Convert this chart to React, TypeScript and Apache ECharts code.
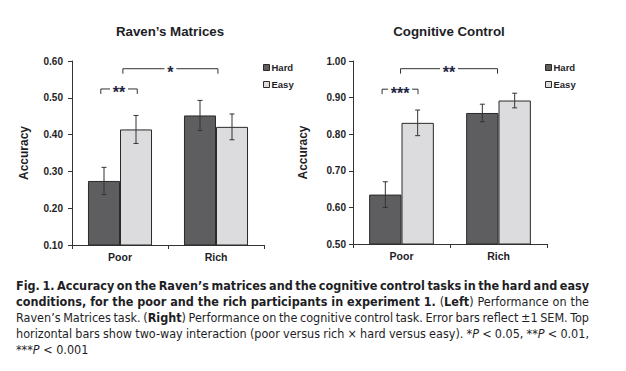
import React, { useEffect, useRef } from 'react';
import * as echarts from 'echarts';

// ---------- data ----------
const categories = ['Poor', 'Rich'];
const seriesNames = ['Hard', 'Easy'];
const titles = ['Raven\u2019s Matrices', 'Cognitive Control'];
const yAxisName = 'Accuracy';

const ravenHard = [0.274, 0.452];
const ravenEasy = [0.414, 0.421];
const ravenHardSem = [0.037, 0.041];
const ravenEasySem = [0.038, 0.035];

const cogHard = [0.635, 0.858];
const cogEasy = [0.831, 0.892];
const cogHardSem = [0.035, 0.024];
const cogEasySem = [0.035, 0.02];

const ravenAxis = { min: 0.1, max: 0.6, interval: 0.1 };
const cogAxis = { min: 0.5, max: 1.0, interval: 0.1 };

// significance brackets: category index + offset (fraction of band), y value, label
const ravenBrackets = [
  { from: 0, fromOff: -0.2, to: 0, toOff: 0.18, y: 0.524, label: '**' },
  { from: 0, fromOff: 0.03, to: 1, toOff: 0.02, y: 0.579, label: '*' },
];
const cogBrackets = [
  { from: 0, fromOff: -0.2, to: 0, toOff: 0.17, y: 0.923, label: '***' },
  { from: 0, fromOff: -0.01, to: 1, toOff: -0.01, y: 0.979, label: '**' },
];

type Run = { t: string; s: 'b' | 'n' | 'i' };
const captionLines: Run[][] = [
  [{ t: 'Fig. 1. Accuracy on the Raven\u2019s matrices and the cognitive control tasks in the hard and easy', s: 'b' }],
  [
    { t: 'conditions, for the poor and the rich participants in experiment 1.', s: 'b' },
    { t: ' (', s: 'n' },
    { t: 'Left', s: 'b' },
    { t: ') Performance on the', s: 'n' },
  ],
  [
    { t: 'Raven\u2019s Matrices task. (', s: 'n' },
    { t: 'Right', s: 'b' },
    { t: ') Performance on the cognitive control task. Error bars reflect \u00b11 SEM. Top', s: 'n' },
  ],
  [
    { t: 'horizontal bars show two-way interaction (poor versus rich \u00d7 hard versus easy). *', s: 'n' },
    { t: 'P', s: 'i' },
    { t: ' < 0.05, **', s: 'n' },
    { t: 'P', s: 'i' },
    { t: ' < 0.01,', s: 'n' },
  ],
  [
    { t: '***', s: 'n' },
    { t: 'P', s: 'i' },
    { t: ' < 0.001', s: 'n' },
  ],
];

// ---------- style ----------
const SANS = "'Liberation Sans', Arial, sans-serif";
const CAP_FONT = "'Liberation Sans Narrow', 'DejaVu Sans Condensed', 'Liberation Sans', sans-serif";
const CAP_SIZE = 12.5;
const CAP_LEFT = 16;
const CAP_RIGHT = 589;
const CAP_TOP = 285;
const CAP_LH = 16;
const TEXT = '#1e1e26';
const HARD_COLOR = '#5e5e60';
const EASY_COLOR = '#dcdcde';
const EDGE = '#2a2a2a';

function capFont(s: string) {
  return `${s === 'i' ? 'italic ' : ''}${s === 'b' ? 'bold ' : ''}${CAP_SIZE}px ${CAP_FONT}`;
}

function layoutCaption(): any[] {
  const canvas = document.createElement('canvas');
  const ctx = canvas.getContext('2d')!;
  const measure = (t: string, s: string) => {
    ctx.font = capFont(s);
    return ctx.measureText(t).width;
  };
  const elems: any[] = [];
  captionLines.forEach((line, li) => {
    const words: Run[][] = [];
    let cur: Run[] = [];
    line.forEach((seg) => {
      const parts = seg.t.split(' ');
      parts.forEach((p, pi) => {
        if (pi > 0) {
          if (cur.length) words.push(cur);
          cur = [];
        }
        if (p.length) cur.push({ t: p, s: seg.s });
      });
    });
    if (cur.length) words.push(cur);
    const widths = words.map((w) => w.reduce((a, r) => a + measure(r.t, r.s), 0));
    const total = widths.reduce((a, b) => a + b, 0);
    const sp = measure(' ', 'n');
    const justify = li < captionLines.length - 1;
    const gap = justify && words.length > 1 ? (CAP_RIGHT - CAP_LEFT - total) / (words.length - 1) : sp;
    let x = CAP_LEFT;
    const y = CAP_TOP + li * CAP_LH;
    words.forEach((w, wi) => {
      let rx = x;
      w.forEach((r) => {
        elems.push({
          type: 'text',
          x: rx,
          y,
          silent: true,
          style: {
            text: r.t,
            fontFamily: CAP_FONT,
            fontSize: CAP_SIZE,
            fontWeight: r.s === 'b' ? 'bold' : 'normal',
            fontStyle: r.s === 'i' ? 'italic' : 'normal',
            fill: TEXT,
            textAlign: 'left',
            textVerticalAlign: 'middle',
          },
        });
        rx += measure(r.t, r.s);
      });
      x += widths[wi] + gap;
    });
  });
  return elems;
}

const errRender = (params: any, api: any) => {
  const cat = api.value(0);
  const lo = api.value(1);
  const hi = api.value(2);
  const off = api.value(3);
  const band = api.size([1, 0])[0];
  const pLo = api.coord([cat, lo]);
  const pHi = api.coord([cat, hi]);
  const x = pLo[0] + off * band;
  const cap = 2.5;
  const style = { stroke: '#333', lineWidth: 1 };
  return {
    type: 'group',
    children: [
      { type: 'line', shape: { x1: x, y1: pHi[1], x2: x, y2: pLo[1] }, style },
      { type: 'line', shape: { x1: x - cap, y1: pHi[1], x2: x + cap, y2: pHi[1] }, style },
      { type: 'line', shape: { x1: x - cap, y1: pLo[1], x2: x + cap, y2: pLo[1] }, style },
    ],
  };
};

const makeBracketRender = (brackets: typeof ravenBrackets) => (params: any, api: any) => {
  const b = brackets[params.dataIndex];
  const band = api.size([1, 0])[0];
  const p1 = api.coord([b.from, b.y]);
  const p2 = api.coord([b.to, b.y]);
  const x1 = p1[0] + b.fromOff * band;
  const x2 = p2[0] + b.toOff * band;
  const y = p1[1];
  const xm = (x1 + x2) / 2;
  const gap = 6 + 6 * b.label.length;
  const style = { stroke: '#333', lineWidth: 1, fill: 'none' };
  return {
    type: 'group',
    children: [
      { type: 'polyline', shape: { points: [[x1, y + 5], [x1, y], [xm - gap / 2, y]] }, style },
      { type: 'polyline', shape: { points: [[xm + gap / 2, y], [x2, y], [x2, y + 5]] }, style },
      {
        type: 'text',
        x: xm,
        y: y + 4,
        style: {
          text: b.label,
          fontFamily: SANS,
          fontSize: 16,
          fontWeight: 'bold',
          fill: '#1f2640',
          textAlign: 'center',
          textVerticalAlign: 'middle',
        },
      },
    ],
  };
};

function errData(hard: number[], hardSem: number[], easy: number[], easySem: number[]) {
  const out: number[][] = [];
  categories.forEach((_, i) => {
    out.push([i, hard[i] - hardSem[i], hard[i] + hardSem[i], -1 / 6]);
    out.push([i, easy[i] - easySem[i], easy[i] + easySem[i], 1 / 6]);
  });
  return out;
}

export default function App() {
  const ref = useRef<HTMLDivElement>(null);
  useEffect(() => {
    if (!ref.current) return;
    const chart = echarts.init(ref.current, undefined, { renderer: 'svg' });

    const axisLineStyle = { color: '#333', width: 1 };
    const makeX = (gridIndex: number) => ({
      type: 'category',
      gridIndex,
      data: categories,
      axisLine: { show: true, lineStyle: axisLineStyle },
      axisTick: { show: true, length: 4, lineStyle: axisLineStyle },
      axisLabel: { fontFamily: SANS, fontSize: 10.5, fontWeight: 'bold', color: TEXT, margin: 6 },
    });
    const makeY = (gridIndex: number, ax: any, margin: number, nameGap: number) => ({
      type: 'value',
      gridIndex,
      min: ax.min,
      max: ax.max,
      interval: ax.interval,
      name: yAxisName,
      nameLocation: 'middle',
      nameGap,
      nameTextStyle: { fontFamily: SANS, fontSize: 12, fontWeight: 'bold', color: TEXT },
      splitLine: { show: false },
      axisLine: { show: true, lineStyle: axisLineStyle },
      axisTick: { show: true, length: 4, lineStyle: axisLineStyle },
      axisLabel: {
        fontFamily: SANS,
        fontSize: 10,
        fontWeight: 'bold',
        color: TEXT,
        margin,
        formatter: (v: number) => v.toFixed(2),
      },
    });
    const bar = (name: string, data: number[], color: string, idx: number) => ({
      type: 'bar',
      name,
      data,
      xAxisIndex: idx,
      yAxisIndex: idx,
      barGap: '0%',
      barCategoryGap: '33.3%',
      itemStyle: { color, borderColor: EDGE, borderWidth: 1 },
      z: 2,
    });
    const legend = (left: number) => ({
      data: seriesNames,
      orient: 'vertical',
      left,
      top: 57,
      icon: 'rect',
      itemWidth: 6,
      itemHeight: 6,
      itemGap: 6,
      itemStyle: { borderColor: EDGE, borderWidth: 1 },
      textStyle: { fontFamily: SANS, fontSize: 9.5, fontWeight: 'bold', color: TEXT, lineHeight: 11, padding: [0, 0, 0, -3] },
      selectedMode: false,
    });

    const option: any = {
      animation: false,
      backgroundColor: '#ffffff',
      grid: [
        { left: 72, top: 61, width: 192, height: 184 },
        { left: 353, top: 61, width: 194, height: 183 },
      ],
      xAxis: [makeX(0), makeX(1)],
      yAxis: [makeY(0, ravenAxis, 9, 42), makeY(1, cogAxis, 7, 44)],
      legend: [legend(258), legend(540)],
      series: [
        bar(seriesNames[0], ravenHard, HARD_COLOR, 0),
        bar(seriesNames[1], ravenEasy, EASY_COLOR, 0),
        bar(seriesNames[0], cogHard, HARD_COLOR, 1),
        bar(seriesNames[1], cogEasy, EASY_COLOR, 1),
        {
          type: 'custom',
          xAxisIndex: 0,
          yAxisIndex: 0,
          renderItem: errRender,
          encode: { x: 0, y: [1, 2] },
          data: errData(ravenHard, ravenHardSem, ravenEasy, ravenEasySem),
          z: 5,
          silent: true,
        },
        {
          type: 'custom',
          xAxisIndex: 1,
          yAxisIndex: 1,
          renderItem: errRender,
          encode: { x: 0, y: [1, 2] },
          data: errData(cogHard, cogHardSem, cogEasy, cogEasySem),
          z: 5,
          silent: true,
        },
        {
          type: 'custom',
          xAxisIndex: 0,
          yAxisIndex: 0,
          renderItem: makeBracketRender(ravenBrackets),
          encode: { x: 0, y: 1 },
          data: ravenBrackets.map((b) => [b.from, b.y]),
          clip: false,
          z: 5,
          silent: true,
        },
        {
          type: 'custom',
          xAxisIndex: 1,
          yAxisIndex: 1,
          renderItem: makeBracketRender(cogBrackets),
          encode: { x: 0, y: 1 },
          data: cogBrackets.map((b) => [b.from, b.y]),
          clip: false,
          z: 5,
          silent: true,
        },
      ],
      graphic: [
        {
          type: 'text',
          x: 170,
          y: 31,
          style: {
            text: titles[0],
            fontFamily: SANS,
            fontSize: 13.3,
            fontWeight: 'bold',
            fill: TEXT,
            textAlign: 'center',
            textVerticalAlign: 'middle',
          },
        },
        {
          type: 'text',
          x: 449,
          y: 31,
          style: {
            text: titles[1],
            fontFamily: SANS,
            fontSize: 13.3,
            fontWeight: 'bold',
            fill: TEXT,
            textAlign: 'center',
            textVerticalAlign: 'middle',
          },
        },
        ...layoutCaption(),
      ],
    };
    chart.setOption(option);
    return () => chart.dispose();
  }, []);
  return (
    <div
      ref={ref}
      style={{ position: 'fixed', left: 0, top: 0, width: 626, height: 371, background: '#fff' }}
    />
  );
}
